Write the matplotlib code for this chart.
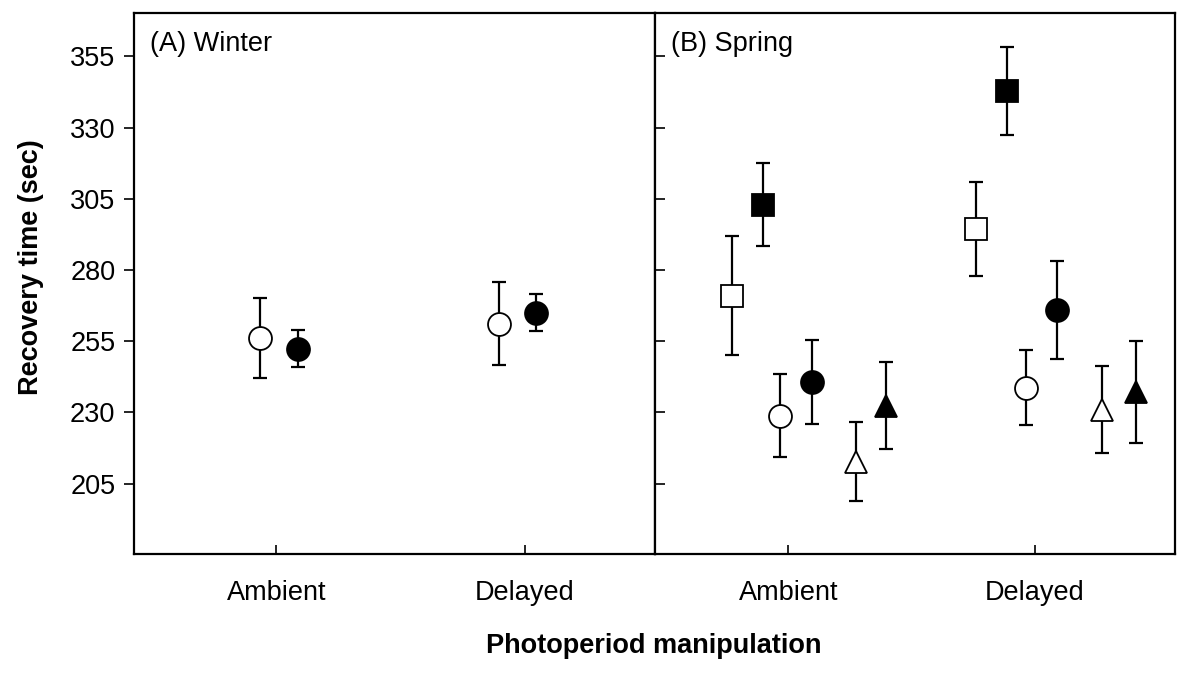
import matplotlib.pyplot as plt
import numpy as np

plt.rcParams['font.family'] = ['Liberation Sans', 'DejaVu Sans']

# data
periods = ['Ambient', 'Delayed']

winter_open_mean = [256.2, 261.1]
winter_open_se = [14.0, 14.6]
winter_filled_mean = [252.4, 265.0]
winter_filled_se = [6.5, 6.5]

spring_open_sq_mean = [271.0, 294.5]
spring_open_sq_se = [21.0, 16.5]
spring_filled_sq_mean = [302.9, 342.9]
spring_filled_sq_se = [14.5, 15.5]
spring_open_circ_mean = [228.9, 238.7]
spring_open_circ_se = [14.7, 13.2]
spring_filled_circ_mean = [240.8, 266.0]
spring_filled_circ_se = [14.7, 17.3]
spring_open_tri_mean = [212.7, 231.0]
spring_open_tri_se = [13.9, 15.2]
spring_filled_tri_mean = [232.4, 237.3]
spring_filled_tri_se = [15.3, 17.9]

# horizontal positions around each category (category at 1, 2)
winter_open_x = [0.935, 1.895]
winter_filled_x = [1.085, 2.044]
spring_open_sq_x = [0.773, 1.761]
spring_filled_sq_x = [0.899, 1.887]
spring_open_circ_x = [0.968, 1.964]
spring_filled_circ_x = [1.097, 2.089]
spring_open_tri_x = [1.275, 2.271]
spring_filled_tri_x = [1.397, 2.409]

fig = plt.figure(figsize=(11.82, 6.86), dpi=100)
ax1 = fig.add_axes([0.1134, 0.1924, 0.4408, 0.7886])
ax2 = fig.add_axes([0.5541, 0.1924, 0.4399, 0.7886])


def draw(ax, x, m, se, marker, filled):
    ax.errorbar(x, m, yerr=se, fmt='none', ecolor='black', elinewidth=1.6,
                capsize=4.8, capthick=1.6, zorder=2)
    ax.plot(x, m, linestyle='none', marker=marker, markersize=16.5,
            markerfacecolor='black' if filled else 'white',
            markeredgecolor='black', markeredgewidth=1.3, zorder=3)


draw(ax1, winter_open_x, winter_open_mean, winter_open_se, 'o', False)
draw(ax1, winter_filled_x, winter_filled_mean, winter_filled_se, 'o', True)

draw(ax2, spring_open_sq_x, spring_open_sq_mean, spring_open_sq_se, 's', False)
draw(ax2, spring_filled_sq_x, spring_filled_sq_mean, spring_filled_sq_se, 's', True)
draw(ax2, spring_open_circ_x, spring_open_circ_mean, spring_open_circ_se, 'o', False)
draw(ax2, spring_filled_circ_x, spring_filled_circ_mean, spring_filled_circ_se, 'o', True)
draw(ax2, spring_open_tri_x, spring_open_tri_mean, spring_open_tri_se, '^', False)
draw(ax2, spring_filled_tri_x, spring_filled_tri_mean, spring_filled_tri_se, '^', True)

yticks = np.arange(205, 356, 25)
for ax in (ax1, ax2):
    ax.set_ylim(180.3, 370.2)
    ax.set_yticks(yticks)
    ax.set_xticks([1, 2])
    ax.set_xticklabels(periods)
    for s in ax.spines.values():
        s.set_linewidth(1.6)
    ax.tick_params(axis='x', direction='in', length=6.5, width=1.2,
                   labelsize=19.5, pad=19)

ax1.set_xlim(0.427, 2.524)
ax2.set_xlim(0.46, 2.567)

ax1.tick_params(axis='y', direction='out', length=7.5, width=1.2,
                labelsize=19.5, pad=6)
ax2.tick_params(axis='y', direction='in', length=7.5, width=1.2,
                labelleft=False)

ax1.text(0.031, 0.943, '(A) Winter', transform=ax1.transAxes,
         fontsize=19.5, va='center', ha='left')
ax2.text(0.031, 0.943, '(B) Spring', transform=ax2.transAxes,
         fontsize=19.5, va='center', ha='left')

fig.text(0.553, 0.058, 'Photoperiod manipulation', fontsize=19.5,
         fontweight='bold', ha='center', va='center')
fig.text(0.026, 0.61, 'Recovery time (sec)', fontsize=19.5,
         fontweight='bold', ha='center', va='center', rotation=90)

fig.savefig('out.png', dpi=100, facecolor='white')
